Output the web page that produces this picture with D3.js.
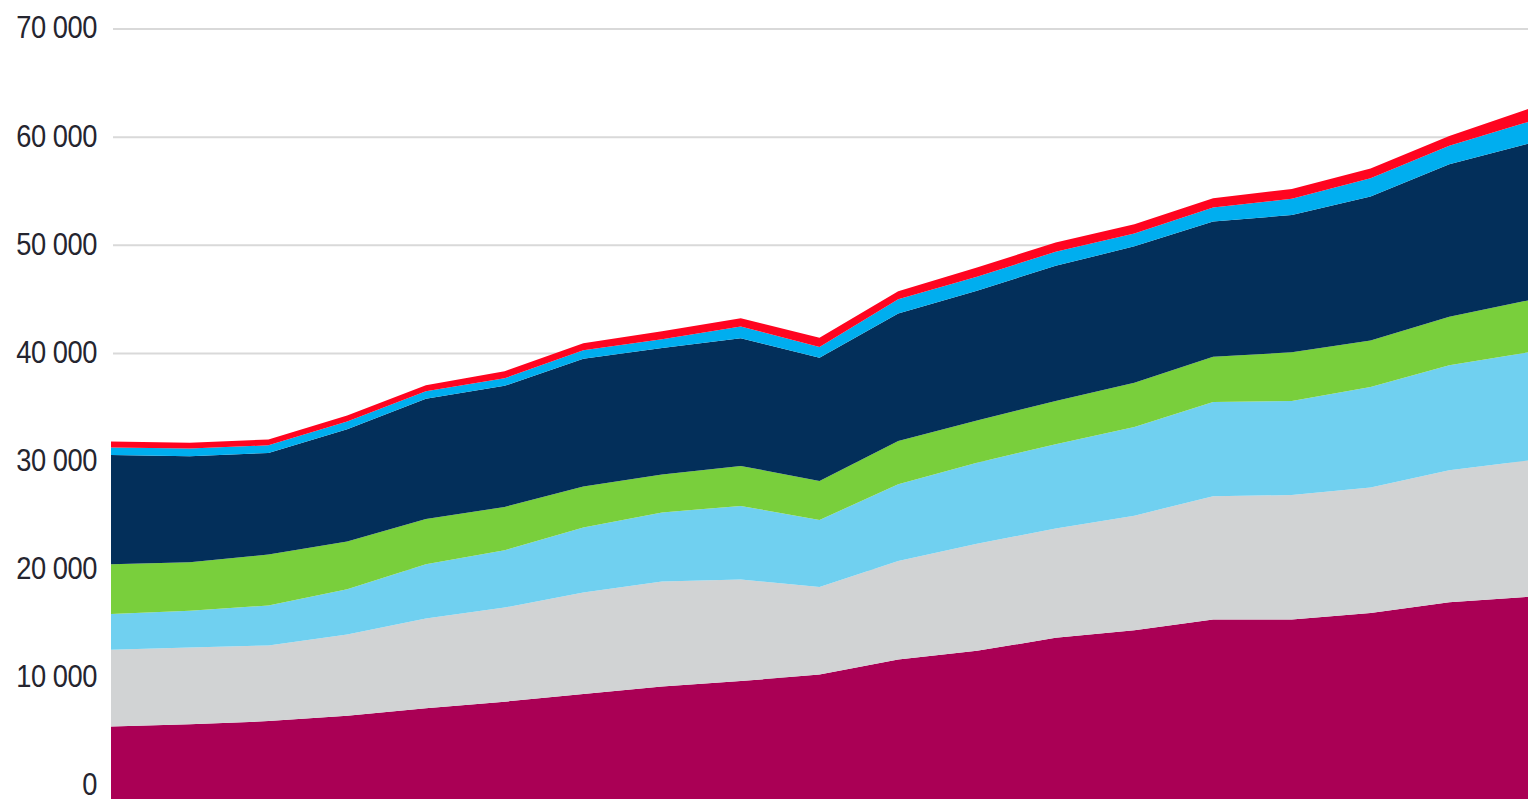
<!DOCTYPE html>
<html>
<head>
<meta charset="utf-8">
<script src="https://cdn.jsdelivr.net/npm/d3@7"></script>
<style>
  body { margin: 0; background: #fff; }
  #viz-container { width: 1537px; height: 807px; }
</style>
</head>
<body>
<div id="viz-container"></div>
<script>
//data, one entry per point along x (19 points)
let years = [2000, 2001, 2002, 2003, 2004, 2005, 2006, 2007, 2008, 2009,
             2010, 2011, 2012, 2013, 2014, 2015, 2016, 2017, 2018];

let magenta = [5500, 5700, 6000, 6500, 7200, 7800, 8500, 9200, 9700, 10300,
               11700, 12500, 13700, 14400, 15400, 15400, 16000, 17000, 17500];
let grey = [7100, 7100, 7000, 7500, 8300, 8700, 9400, 9700, 9400, 8100,
            9100, 9900, 10100, 10600, 11400, 11500, 11600, 12200, 12600];
let lightBlue = [3300, 3400, 3700, 4200, 5000, 5300, 6000, 6400, 6800, 6200,
                 7100, 7500, 7800, 8200, 8700, 8700, 9300, 9700, 10000];
let green = [4600, 4500, 4700, 4400, 4200, 4000, 3800, 3500, 3700, 3600,
             4000, 3900, 4000, 4100, 4200, 4500, 4300, 4500, 4800];
let navy = [10100, 9800, 9400, 10400, 11100, 11200, 11800, 11700, 11800, 11400,
            11800, 12000, 12500, 12600, 12500, 12700, 13300, 14100, 14500];
let blue = [700, 700, 700, 700, 700, 700, 800, 800, 1100, 1000,
            1300, 1300, 1300, 1200, 1300, 1500, 1700, 1700, 2000];
let red = [550, 550, 550, 550, 550, 650, 650, 750, 750, 850,
           750, 850, 850, 850, 850, 900, 900, 900, 1200];

let yTicks = [0, 10000, 20000, 30000, 40000, 50000, 60000, 70000];

//series order from bottom to top, with colours
let seriesKeys = ["magenta", "grey", "lightBlue", "green", "navy", "blue", "red"];
let seriesColors = ["#aa0055", "#d1d3d4", "#70d0f0", "#79cf3c", "#032f5a", "#00aeef", "#ff0520"];
let seriesValues = [magenta, grey, lightBlue, green, navy, blue, red];

//build the rows d3.stack wants
let rows = years.map(function (yr, i) {
    let row = { year: yr };
    seriesKeys.forEach(function (k, j) { row[k] = seriesValues[j][i]; });
    return row;
});

let viz = d3.select("#viz-container")
    .append("svg")
    .attr("id", "viz")
    .attr("width", 1537)
    .attr("height", 807);

let left = 111, right = 1528, plotBottom = 799;

let x = d3.scalePoint()
    .domain(years)
    .range([left, right]);

let y = d3.scaleLinear()
    .domain([0, 70000])
    .range([786, 29]);

//gridlines
viz.append("g")
    .selectAll("line")
    .data(yTicks.filter(d => d > 0))
    .enter().append("line")
    .attr("x1", 113)
    .attr("x2", right)
    .attr("y1", d => y(d))
    .attr("y2", d => y(d))
    .attr("stroke", "#d9d9d9")
    .attr("stroke-width", 2);

//tick labels through an axis, domain and tick lines removed
let yAxis = d3.axisLeft(y)
    .tickValues(yTicks)
    .tickSize(0)
    .tickPadding(0)
    .tickFormat(d => d3.format(",")(d).replace(/,/g, " "));

let axisG = viz.append("g")
    .attr("transform", "translate(97,-1)")
    .call(yAxis);

axisG.select(".domain").remove();
//the original font is a condensed one, so squeeze the text sideways
axisG.selectAll("text")
    .attr("fill", "#25252f")
    .attr("transform", "scale(0.88,1)")
    .style("font-family", "'Liberation Sans', Arial, sans-serif")
    .style("font-size", "31px")
    .style("letter-spacing", "-0.5px");

//stacked areas
let stack = d3.stack().keys(seriesKeys);
let layers = stack(rows);

let area = d3.area()
    .x(d => x(d.data.year))
    .y0(d => d[0] === 0 ? plotBottom : y(d[0]))
    .y1(d => y(d[1]));

viz.append("g")
    .selectAll("path")
    .data(layers)
    .enter().append("path")
    .attr("d", area)
    .attr("fill", (d, i) => seriesColors[i]);
</script>
</body>
</html>
